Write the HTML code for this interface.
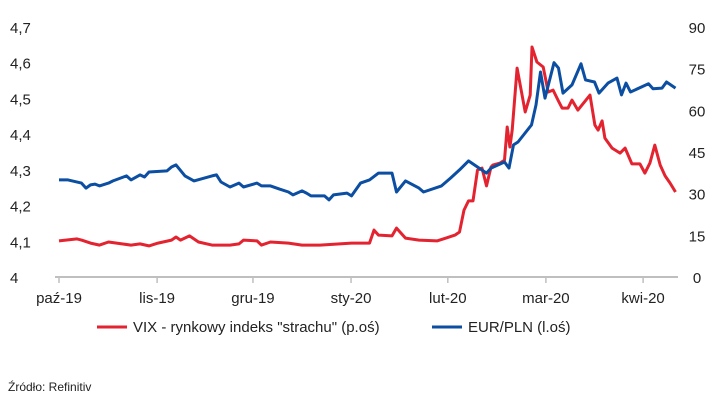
<!DOCTYPE html>
<html><head><meta charset="utf-8"><style>
body{margin:0;background:#fff;}
svg{display:block;font-family:"Liberation Sans",sans-serif;}
</style></head><body>
<svg width="720" height="404" viewBox="0 0 720 404" id="chart"></svg>
<script>
const monthLabels=["paź-19","lis-19","gru-19","sty-20","lut-20","mar-20","kwi-20"];
const monthDays=[0,21.8,43.1,64.9,86.4,108.2,129.8];
const leftTicks=[4,4.1,4.2,4.3,4.4,4.5,4.6,4.7];
const leftTickLabels=["4","4,1","4,2","4,3","4,4","4,5","4,6","4,7"];
const rightTicks=[0,15,30,45,60,75,90];
const eurDays=[0,2,5,6,7,8,9,11,12,15,16,18,19,20,24,25,26,28,30,34,35,36,38,40,41,44,45,47,49,51,52,54,55,56,59,60,61,64,65,67,69,71,74,75,77,80,81,85,87,89,91,95,96,99,100,101,102,105,106,107,108,110,111,112,114,116,117,119,120,122,124,125,126,127,131,132,134,135,137];
const eurVals=[4.272,4.272,4.263,4.249,4.258,4.260,4.255,4.263,4.269,4.283,4.272,4.286,4.280,4.294,4.297,4.308,4.314,4.283,4.269,4.283,4.286,4.266,4.252,4.263,4.252,4.263,4.255,4.255,4.246,4.238,4.230,4.241,4.235,4.227,4.227,4.216,4.230,4.235,4.227,4.263,4.272,4.291,4.291,4.238,4.269,4.249,4.238,4.255,4.277,4.300,4.325,4.291,4.305,4.322,4.305,4.370,4.378,4.426,4.482,4.574,4.501,4.600,4.585,4.515,4.538,4.597,4.552,4.546,4.515,4.543,4.557,4.510,4.543,4.518,4.541,4.527,4.529,4.546,4.529];
const vixDays=[0,4,5,7,9,11,14,16,18,20,22,25,26,27,29,31,34,38,40,41,44,45,47,51,54,58,65,69,70,71,74,75,76,77,80,84,86,88,89,90,91,92,93,94,95,96,96.4,98,99,99.6,100.2,100.7,101.8,103.6,104.7,105.1,106.2,107.6,108.7,109.8,110.9,111.8,113.1,114,115.3,118,119.1,119.8,120.7,121.3,122.9,124.7,125.8,127.3,129.1,130.2,131.3,132.4,133.6,134.7,135.8,137];
const vixVals=[13.0,13.7,13.3,12.2,11.5,12.6,11.9,11.5,11.9,11.2,12.2,13.3,14.4,13.3,14.8,12.6,11.5,11.5,11.9,13.3,13.0,11.5,12.6,12.2,11.5,11.5,12.2,12.2,16.9,15.1,14.8,17.6,15.8,14.0,13.3,13.0,14.0,15.1,16.2,24.1,27.4,27.4,38.5,39.2,32.8,39.6,40.3,41.0,42.1,54.0,46.8,52.9,75.2,59.4,65.5,82.8,77.4,75.6,66.6,67.3,63.7,60.8,60.8,63.7,60.1,65.5,54.7,52.9,56.2,50.0,46.4,44.6,46.4,40.7,40.7,37.4,41.0,47.5,40.3,36.4,33.8,30.6];
const svg=document.getElementById('chart');
const NS='http://www.w3.org/2000/svg';
function xS(d){return 59+d*4.5;}
function yL(v){return 277-(v-4)/0.7*250;}
function yR(v){return 277-v/90*250;}
function mk(tag,attrs,parent){const e=document.createElementNS(NS,tag);for(const k in attrs)e.setAttribute(k,attrs[k]);(parent||svg).appendChild(e);return e;}
// axis
let ax=mk('line',{x1:55,y1:277,x2:678,y2:277,stroke:'#bfbfbf','stroke-width':2});


monthDays.forEach((d,i)=>{
 let t=mk('line',{x1:xS(d),y1:277,x2:xS(d),y2:283,stroke:'#bfbfbf','stroke-width':1.5});
 
 
 let l=mk('text',{x:xS(d),y:303,'text-anchor':'middle','font-size':15,fill:'#222'});
 l.textContent=monthLabels[i];
 
 
});
leftTicks.forEach((v,i)=>{
 let l=mk('text',{x:10,y:yL(v)+6,'font-size':15,fill:'#222'});
 l.textContent=leftTickLabels[i];
 
 
});
rightTicks.forEach(v=>{
 let l=mk('text',{x:697,y:yR(v)+6,'text-anchor':'middle','font-size':15,fill:'#222'});
 l.textContent=String(v);
 
 
});
function series(days,vals,yf,color,name){
 let p=days.map((d,i)=>(i?'L':'M')+xS(d).toFixed(1)+','+yf(vals[i]).toFixed(1)).join('');
 let e=mk('path',{d:p,fill:'none',stroke:color,'stroke-width':3,'stroke-linejoin':'round'});
 
 
}
series(vixDays,vixVals,yR,'#e3232f','vix-line');
series(eurDays,eurVals,yL,'#0b4ea2','eurpln-line');
// legend
let g=mk('g',{});


mk('line',{x1:97,y1:327,x2:127,y2:327,stroke:'#e3232f','stroke-width':3},g);
let t1=mk('text',{x:133,y:332,'font-size':15,fill:'#222'},g);
t1.textContent='VIX - rynkowy indeks "strachu" (p.oś)';


mk('line',{x1:432,y1:327,x2:462,y2:327,stroke:'#0b4ea2','stroke-width':3},g);
let t2=mk('text',{x:468,y:332,'font-size':15,fill:'#222'},g);
t2.textContent='EUR/PLN (l.oś)';


let src=mk('text',{x:8,y:391,'font-size':12,fill:'#222'});
src.textContent='Źródło: Refinitiv';


</script>
</body></html>
